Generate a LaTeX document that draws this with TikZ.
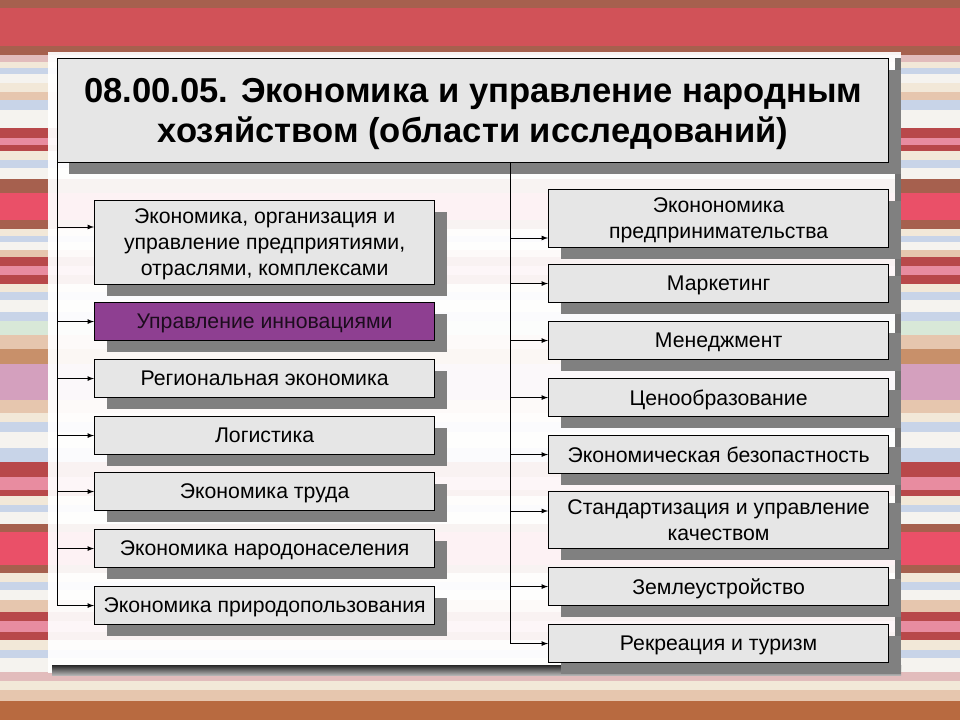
\documentclass[tikz,border=0pt]{standalone}
\usepackage{fontspec}
\setmainfont{Liberation Sans}
\usepackage{tikz}
\usetikzlibrary{arrows,positioning,shadows}
\definecolor{boxgray}{HTML}{E6E6E6}
\definecolor{shadowgray}{HTML}{808080}
\definecolor{innov}{HTML}{8E3F91}
\definecolor{bgbrown}{HTML}{A6604E}
\definecolor{bgred}{HTML}{D15258}
\definecolor{bgbred}{HTML}{EA5068}
\definecolor{bgdred}{HTML}{B8484A}
\definecolor{bgpink}{HTML}{E2BCBC}
\definecolor{bgrose}{HTML}{E88CA0}
\definecolor{bgcream}{HTML}{F2E8D8}
\definecolor{bgblue}{HTML}{C8D4E8}
\definecolor{bgwhite}{HTML}{F5F3EF}
\definecolor{bgtan}{HTML}{E6C6AE}
\definecolor{bggreen}{HTML}{D8E8D8}
\definecolor{bgorange}{HTML}{C8906A}
\definecolor{bgmauve}{HTML}{D4A0BE}
\definecolor{bgrust}{HTML}{B86A40}

\begin{document}
\begin{tikzpicture}[x=0.025cm,y=-0.025cm,
        every node/.style={font=\fontsize{15.1}{18.5}\selectfont},
        area/.style={draw=black,fill=boxgray,line width=0.8pt,inner sep=0pt,text depth=0pt,
            anchor=north west,minimum width=8.5cm,minimum height=0.95cm,align=center,
            drop shadow={shadow xshift=0.3cm,shadow yshift=-0.275cm,opacity=1,fill=shadowgray}},
        headbox/.style={area,minimum width=20.775cm,minimum height=2.6cm,
            font=\fontsize{24.6}{28.5}\selectfont\bfseries,
            drop shadow={shadow xshift=0.275cm,shadow yshift=-0.275cm,opacity=1,fill=shadowgray}},
        arr/.style={->,>=latex,line width=0.6pt}]
                \useasboundingbox (0,0) rectangle (960,720);
                % striped backdrop
                \foreach \ya/\yb/\c in {0/8/bgbrown,8/46/bgred,46/55/bgbrown,55/62/bgpink,
                        62/68/bgcream,68/74/bgblue,74/83/bgwhite,83/92/bgcream,92/100/bgtan,
                        100/110/bgblue,110/128/bgwhite,128/138/bgdred,138/145/bgrose,145/151/bgdred,
                        151/160/bgcream,160/168/bgblue,168/179/bgwhite,179/193/bgbrown,193/220/bgbred,
                        220/229/bgbrown,229/236/bgcream,236/242/bgblue,242/250/bgwhite,250/257/bgtan,
                        257/266/bgdred,266/275/bgrose,275/284/bgdred,284/292/bgcream,292/300/bgblue,
                        300/312/bgwhite,312/321/bgblue,321/335/bggreen,335/349/bgtan,349/364/bgorange,
                        364/400/bgmauve,400/413/bgtan,413/422/bgcream,422/432/bgblue,432/448/bgwhite,
                        448/462/bgblue,462/477/bgdred,477/490/bgrose,490/496/bgdred,496/505/bgcream,
                        505/512/bgblue,512/524/bgwhite,524/532/bgbrown,532/565/bgbred,565/573/bgbrown,
                        573/582/bgcream,582/590/bgblue,590/600/bgwhite,600/612/bgtan,612/621/bgdred,
                        621/632/bgrose,632/640/bgdred,640/650/bgcream,650/658/bgblue,658/672/bgwhite,
                        672/681/bgpink,681/690/bgcream,690/701/bgtan,701/720/bgrust}
                    \fill[\c] (0,\ya) rectangle (960,\yb);
                % white sheet
                \fill[white,fill opacity=0.93] (48,52) rectangle (901,673);
                \fill[shadowgray!90!black] (895,58) rectangle (901,673);
                \shade[top color=black!85,bottom color=black!30] (52,665) rectangle (901,675);

                \node[headbox] (title) at (57,58) {08.00.05. Экономика и управление народным\\хозяйством (области исследований)};

                \node[area,minimum height=2.1cm] (L1) at (94,200) {Экономика, организация и\\управление предприятиями,\\отраслями, комплексами};
                \node[area,fill=innov,text=black!80!innov] (L2) at (94,302) {Управление инновациями};
                \node[area] (L3) at (94,359) {Региональная экономика};
                \node[area] (L4) at (94,416) {Логистика};
                \node[area] (L5) at (94,472) {Экономика труда};
                \node[area] (L6) at (94,529) {Экономика народонаселения};
                \node[area] (L7) at (94,586) {Экономика природопользования};

                \node[area,minimum height=1.45cm] (R1) at (548,189) {Эконономика\\предпринимательства};
                \node[area] (R2) at (548,264) {Маркетинг};
                \node[area] (R3) at (548,321) {Менеджмент};
                \node[area] (R4) at (548,378) {Ценообразование};
                \node[area] (R5) at (548,435) {Экономическая безопастность};
                \node[area,minimum height=1.425cm] (R6) at (548,491) {Стандартизация и управление\\качеством};
                \node[area] (R7) at (548,567) {Землеустройство};
                \node[area] (R8) at (548,624) {Рекреация и туризм};

                \coordinate (l1) at (57,227);
                \coordinate (rtop) at (510,162);
                \coordinate (r1) at (510,238);
                \coordinate (r6) at (510,511);
                \draw[line width=0.6pt] (title.south west) -- (title.south west |- L7.west);
                \draw[line width=0.6pt] (rtop) -- (rtop |- R8.west);

                \draw[arr] (l1) -- (l1 -| L1.west);
                \draw[arr] (title.south west |- L2.west) -- (L2.west);
                \draw[arr] (title.south west |- L3.west) -- (L3.west);
                \draw[arr] (title.south west |- L4.west) -- (L4.west);
                \draw[arr] (title.south west |- L5.west) -- (L5.west);
                \draw[arr] (title.south west |- L6.west) -- (L6.west);
                \draw[arr] (title.south west |- L7.west) -- (L7.west);

                \draw[arr] (r1) -- (r1 -| R1.west);
                \draw[arr] (rtop |- R2.west) -- (R2.west);
                \draw[arr] (rtop |- R3.west) -- (R3.west);
                \draw[arr] (rtop |- R4.west) -- (R4.west);
                \draw[arr] (rtop |- R5.west) -- (R5.west);
                \draw[arr] (r6) -- (r6 -| R6.west);
                \draw[arr] (rtop |- R7.west) -- (R7.west);
                \draw[arr] (rtop |- R8.west) -- (R8.west);
\end{tikzpicture}
\end{document}
